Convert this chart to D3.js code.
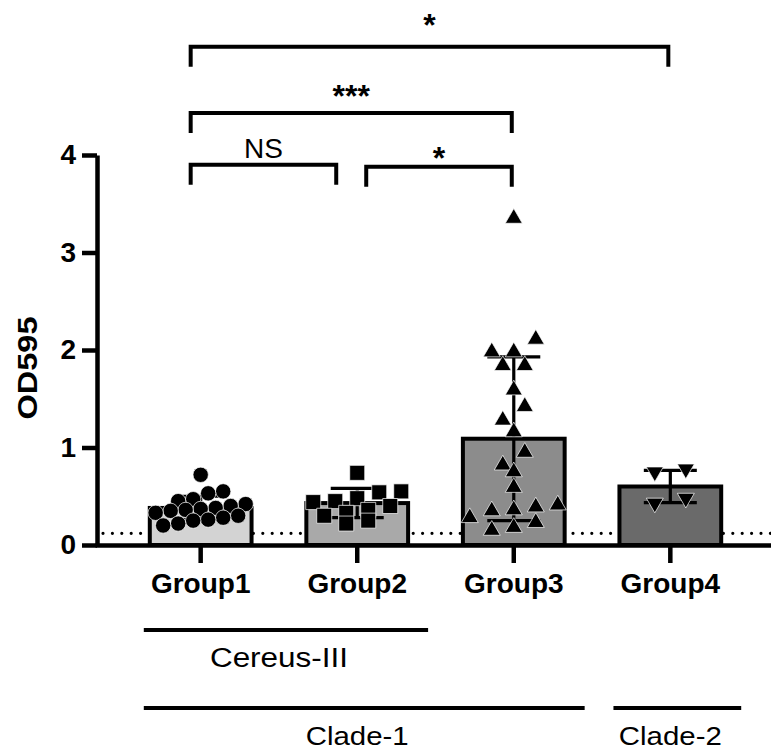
<!DOCTYPE html>
<html>
<head>
<meta charset="utf-8">
<script src="https://cdn.jsdelivr.net/npm/d3@7"></script>
<style>
  html, body { margin: 0; padding: 0; background: #fff; }
  svg { display: block; font-family: "Liberation Sans", Arial, Helvetica, sans-serif; }
</style>
</head>
<body>
<div id="chart"></div>
<script>
// OD595 per group: bar = mean, whisker = SD, markers = individual strains.
const groups = ['Group1', 'Group2', 'Group3', 'Group4'];

const group1Values = [0.72, 0.55, 0.53, 0.47, 0.45, 0.42, 0.40, 0.38, 0.37, 0.36, 0.35, 0.33, 0.30, 0.28, 0.26, 0.25, 0.22, 0.20];
const group2Values = [0.74, 0.55, 0.54, 0.48, 0.45, 0.44, 0.40, 0.36, 0.33, 0.30, 0.25, 0.22];
const group3Values = [3.35, 2.11, 1.98, 1.98, 1.84, 1.84, 1.59, 1.42, 1.28, 1.16, 0.95, 0.82, 0.75, 0.59, 0.41, 0.39, 0.36, 0.35, 0.28, 0.23, 0.18, 0.15];
const group4Values = [0.78, 0.75, 0.48, 0.43];

const means = [0.38, 0.43, 1.09, 0.60];
const sds = [0.12, 0.15, 0.84, 0.165];

const yTicks = [0, 1, 2, 3, 4];
const cutoff = 0.12; // dotted detection line

// level = bracket height, labelAt = centre of the label, both in OD595 units
const comparisons = [
    { from: 'Group1', to: 'Group2', level: 3.90, labelAt: 4.07, label: 'NS' },
    { from: 'Group2', to: 'Group3', level: 3.88, labelAt: 4.04, label: '*' },
    { from: 'Group1', to: 'Group3', level: 4.43, labelAt: 4.68, label: '***' },
    { from: 'Group1', to: 'Group4', level: 5.11, labelAt: 5.40, label: '*' },
];

const clades = [
    { label: 'Cereus-III', first: 'Group1', last: 'Group2', row: 0 },
    { label: 'Clade-1', first: 'Group1', last: 'Group3', row: 1 },
    { label: 'Clade-2', first: 'Group4', last: 'Group4', row: 1 },
];

const pointSets = [group1Values, group2Values, group3Values, group4Values];

const STYLE = {
    fills: ['#d3d3d3', '#a9a9a9', '#8c8c8c', '#6a6a6a'],
    markers: [
        { type: d3.symbolCircle, size: 185, step: 15, rowPx: 10, rotate: 0 },
        { type: d3.symbolSquare, size: 225, step: 22, rowPx: 12, rotate: 0 },
        { type: d3.symbolTriangle, size: 125, step: 22, rowPx: 14, rotate: 0 },
        { type: d3.symbolTriangle, size: 125, step: 31, rowPx: 14, rotate: 180 },
    ],
};

const width = 771;
const height = 751;
const axisX = 97;

const svg = d3.select('#chart').append('svg')
    .attr('width', width)
    .attr('height', height);

const x = d3.scaleBand().domain(groups).range([95, 776]).paddingInner(0.35).paddingOuter(0.35);
const y = d3.scaleLinear().domain([0, 4]).range([545, 155]);
const bw = x.bandwidth();
const cx = (g) => x(g) + bw / 2;

// dotted cutoff line sits behind the bars
svg.append('line')
    .attr('x1', axisX + 6).attr('x2', width)
    .attr('y1', y(cutoff)).attr('y2', y(cutoff))
    .attr('stroke', '#000')
    .attr('stroke-width', 3.2)
    .attr('stroke-linecap', 'round')
    .attr('stroke-dasharray', '0,9.4');

svg.append('g').selectAll('rect')
    .data(groups)
    .join('rect')
    .attr('x', (g) => x(g))
    .attr('y', (g, i) => y(means[i]))
    .attr('width', bw)
    .attr('height', (g, i) => y(0) - y(means[i]))
    .attr('fill', (g, i) => STYLE.fills[i])
    .attr('stroke', '#000')
    .attr('stroke-width', 4);

// axes
const yAxis = svg.append('g')
    .attr('transform', `translate(${axisX},0)`)
    .call(d3.axisLeft(y).tickValues(yTicks).tickFormat(d3.format('d')).tickSize(15).tickSizeOuter(0).tickPadding(6));

const xAxis = svg.append('g')
    .attr('transform', `translate(0,${y(0)})`)
    .call(d3.axisBottom(x).tickSize(18).tickSizeOuter(0).tickPadding(10));

[yAxis, xAxis].forEach((a) => {
    a.attr('font-family', null).attr('font-size', null);
    a.select('.domain').attr('stroke', '#000').attr('stroke-width', 4.5);
    a.selectAll('.tick line').attr('stroke', '#000').attr('stroke-width', 4.5);
    a.selectAll('.tick text')
        .attr('fill', '#000')
        .attr('font-size', 28)
        .attr('font-weight', 'bold');
});

svg.append('text')
    .attr('transform', 'translate(37,368) rotate(-90)')
    .attr('text-anchor', 'middle')
    .attr('font-size', 28)
    .attr('font-weight', 'bold')
    .attr('textLength', 103)
    .attr('lengthAdjust', 'spacingAndGlyphs')
    .text('OD595');

// error bars (mean ± SD)
const capHalf = 26.5;
const err = svg.append('g').attr('stroke', '#000').attr('stroke-width', 3.2);
groups.forEach((g, i) => {
    const lo = y(means[i] - sds[i]);
    const hi = y(means[i] + sds[i]);
    err.append('line').attr('x1', cx(g)).attr('x2', cx(g)).attr('y1', lo).attr('y2', hi);
    [lo, hi].forEach((yy) => {
        err.append('line').attr('x1', cx(g) - capHalf).attr('x2', cx(g) + capHalf).attr('y1', yy).attr('y2', yy);
    });
});

// rows of similar values are spread out symmetrically around the group centre
function swarm(values, step, rowPx) {
    const sorted = values.slice().sort((a, b) => b - a);
    const rows = [];
    sorted.forEach((v) => {
        const row = rows[rows.length - 1];
        if (row && Math.abs(y(v) - y(row[0])) < rowPx) row.push(v);
        else rows.push([v]);
    });
    const out = [];
    rows.forEach((row) => row.forEach((v, k) => out.push({ value: v, dx: ((row.length - 1) / 2 - k) * step })));
    return out;
}

groups.forEach((g, i) => {
    const m = STYLE.markers[i];
    const sym = d3.symbol().type(m.type).size(m.size);
    svg.append('g').selectAll('path')
        .data(swarm(pointSets[i], m.step, m.rowPx))
        .join('path')
        .attr('d', sym)
        .attr('transform', (d) => `translate(${cx(g) + d.dx},${y(d.value)}) rotate(${m.rotate})`)
        .attr('fill', '#000')
        .attr('stroke', '#fff')
        .attr('stroke-width', 0.7);
});

// significance brackets
const brackets = svg.append('g');
comparisons.forEach((c) => {
    const sameLevel = comparisons.filter((o) => o !== c && Math.abs(o.level - c.level) < 0.1);
    let x1 = cx(c.from) - 10;
    let x2 = cx(c.to) - 2;
    if (sameLevel.some((o) => o.to === c.from)) x1 += 19;
    if (sameLevel.some((o) => o.from === c.to)) x2 -= 19;
    const yy = y(c.level);
    brackets.append('path')
        .attr('d', `M${x1},${yy + 20}V${yy}H${x2}V${yy + 20}`)
        .attr('fill', 'none')
        .attr('stroke', '#000')
        .attr('stroke-width', 4);
    // asterisks sit high in the em box, letters do not
    const isText = /[A-Za-z]/.test(c.label);
    const fs = isText ? 28 : 32;
    brackets.append('text')
        .attr('x', (x1 + x2) / 2)
        .attr('y', y(c.labelAt) + (isText ? 0.36 : 0.56) * fs)
        .attr('text-anchor', 'middle')
        .attr('font-size', fs)
        .attr('font-weight', isText ? 'normal' : 'bold')
        .text(c.label);
});

// clade annotation lines under the axis
const rowLineY = [630, 708];
const rowTextY = [667, 745];
clades.forEach((c) => {
    const x1 = x(c.first) - 6;
    const x2 = x(c.last) + bw + 20;
    svg.append('line')
        .attr('x1', x1).attr('x2', x2)
        .attr('y1', rowLineY[c.row]).attr('y2', rowLineY[c.row])
        .attr('stroke', '#000')
        .attr('stroke-width', 4);
    // label is centred under the bars it covers, not the whole line
    svg.append('text')
        .attr('x', (x(c.first) + x(c.last) + bw) / 2)
        .attr('y', rowTextY[c.row])
        .attr('text-anchor', 'middle')
        .attr('font-size', c.row === 0 ? 27 : 26)
        .attr('textLength', c.row === 0 ? 138 : 103)
        .attr('lengthAdjust', 'spacingAndGlyphs')
        .text(c.label);
});
</script>
</body>
</html>
